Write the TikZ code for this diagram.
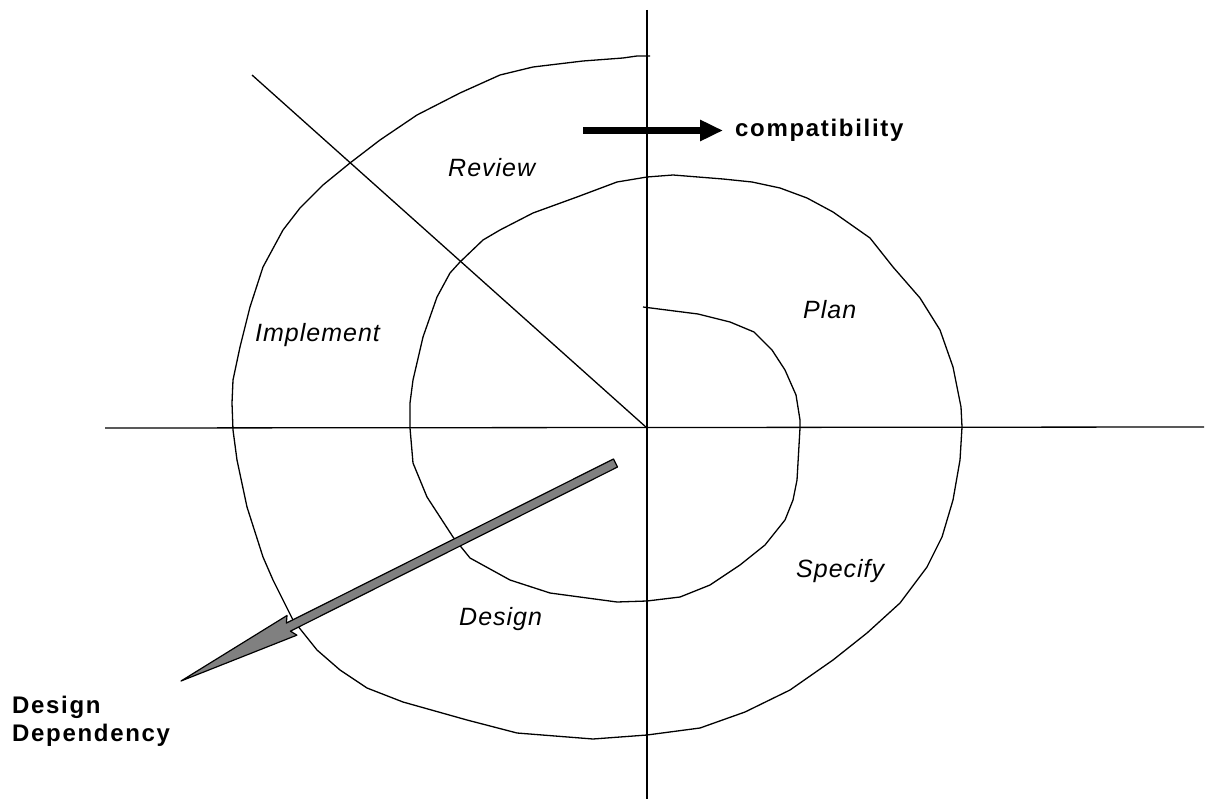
\documentclass[tikz,border=0pt]{standalone}
\usepackage{fontspec}
\setmainfont{Liberation Sans}
\newfontfamily\phasefont[LetterSpace=4]{Liberation Sans}
\newfontfamily\notefont[LetterSpace=7]{Liberation Sans}
\usetikzlibrary{arrows.meta,calc}

\begin{document}
\begin{tikzpicture}[x=1pt,y=-1pt,
					line join=round,
					axis/.style={line width=1.3pt},
					spiral/.style={line width=1.3pt},
					phase/.style={font=\phasefont\itshape\fontsize{25}{28}\selectfont,
								  anchor=base west,inner sep=0pt},
					note/.style={font=\notefont\bfseries\fontsize{24}{28}\selectfont,
								 inner sep=0pt},
					bigarrow/.style={line width=7pt,-{Triangle[length=23pt,width=20pt]}},
					ddarrow/.style={draw=black,fill=black!50,line width=1.2pt}]

  \useasboundingbox (0,0) rectangle (1206,799);

  % axes and the diagonal
  \coordinate (O) at (647,428);
  \coordinate (top) at (647,10);
  \coordinate (bottom) at (647,799);
  \coordinate (left) at (105,428);
  \coordinate (right) at (1204,427);
  \coordinate (diag) at (252,75);
  \draw[axis] (top) -- (bottom);
  \draw[axis] (left) -- (right);
  \draw[axis] (diag) -- (O);

  % the spiral, from the centre outwards
  \draw[spiral] (643,307) -- (698,314) -- (730,322) -- (754,332) -- (772,350)
    -- (785,370) -- (796,395) -- (800,420) -- (800,428) -- (797,480) -- (793,500)
    -- (785,520) -- (765,545) -- (740,565) -- (710,585) -- (680,597) -- (647,601)
    -- (617,602) -- (550,593) -- (510,580) -- (470,558) -- (453,537) -- (427,497)
    -- (413,463) -- (410,428) -- (410,403) -- (413,380) -- (423,337) -- (437,297)
    -- (450,273) -- (460,262) -- (483,240) -- (500,230) -- (533,213) -- (577,197)
    -- (617,182) -- (647,177) -- (673,175) -- (723,179) -- (752,182) -- (780,188)
    -- (807,198) -- (833,212) -- (870,238) -- (893,267) -- (920,298) -- (940,330)
    -- (953,367) -- (961,407) -- (962,427) -- (960,460) -- (953,500) -- (942,537)
    -- (927,567) -- (900,603) -- (867,633) -- (833,660) -- (790,690) -- (745,712)
    -- (700,728) -- (647,735) -- (593,739) -- (517,733) -- (467,720) -- (403,702)
    -- (367,688) -- (340,670) -- (317,650) -- (293,620) -- (273,580) -- (263,557)
    -- (247,507) -- (237,460) -- (233,430) -- (232,403) -- (233,380) -- (240,347)
    -- (250,307) -- (263,267) -- (283,230) -- (300,208) -- (323,185) -- (350,163)
    -- (380,140) -- (417,115) -- (460,93) -- (500,75) -- (533,67) -- (583,61)
    -- (623,58) -- (637,56) -- (650,56);

  % phases
  \node[phase] (review) at (448,177) {Review};
  \node[phase] (implement) at (255,341) {Implement};
  \node[phase] (plan) at (803,318) {Plan};
  \node[phase] (specify) at (796,577) {Specify};
  \node[phase] (design) at (459,625) {Design};

  % compatibility
  \coordinate (cstart) at (583,130.5);
  \node[note,anchor=west,inner xsep=12pt] (compat) at (723,130.5) {compatibility};
  \draw[bigarrow] (cstart) -- (compat.west);

  % design dependency
  \coordinate (ddtail) at (615.5,463);
  \coordinate (ddtip) at (181,681);
  \draw[ddarrow] ($(ddtail)!4.5pt!90:(ddtip)$)
    -- ($(ddtail)!366pt!(ddtip)!4.5pt!90:(ddtip)$)
    -- ($(ddtail)!362pt!(ddtip)!11pt!90:(ddtip)$)
    -- (ddtip)
    -- ($(ddtail)!362pt!(ddtip)!11pt!-90:(ddtip)$)
    -- ($(ddtail)!366pt!(ddtip)!4.5pt!-90:(ddtip)$)
    -- ($(ddtail)!4.5pt!-90:(ddtip)$) -- cycle;
  \node[note,anchor=north west,align=left] (dep) at (12,696) {Design\\Dependency};
\end{tikzpicture}
\end{document}
